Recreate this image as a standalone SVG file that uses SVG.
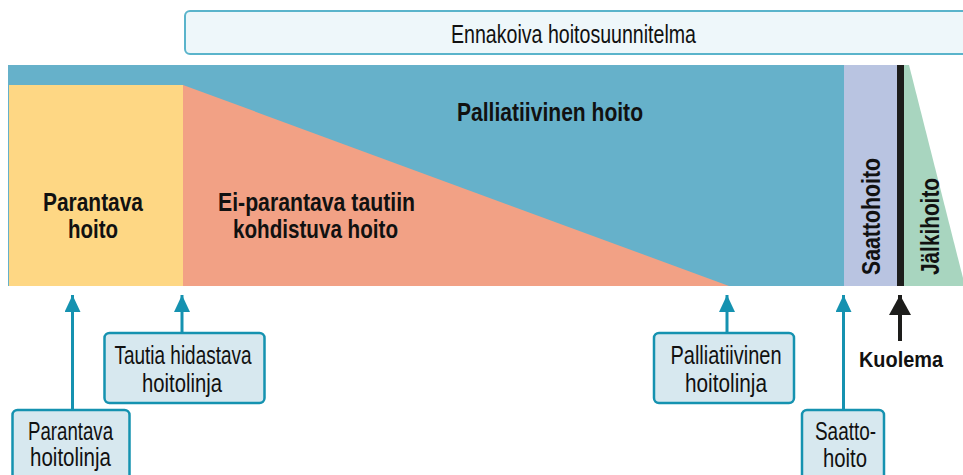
<svg xmlns="http://www.w3.org/2000/svg" width="963" height="475" viewBox="0 0 963 475">
<defs>
<style>
.t{font-family:"Liberation Sans",Arial,sans-serif;font-size:25px;fill:#111;text-anchor:middle}
.b{font-weight:bold}
.k{font-size:22px}
.box{fill:#d7e8ef;stroke:#1592b0;stroke-width:2.5}
.ln{stroke:#1592b0;stroke-width:3;fill:none}
</style>
<marker id="ah" markerUnits="userSpaceOnUse" markerWidth="18" markerHeight="16" refX="17" refY="8" orient="auto">
<path d="M0,0 L17,8 L0,16 Z" fill="#1592b0"/>
</marker>
<marker id="ahk" markerUnits="userSpaceOnUse" markerWidth="22" markerHeight="24" refX="20" refY="11" orient="auto">
<path d="M0,0 L20,11 L0,22 Z" fill="#1d1d1b"/>
</marker>
</defs>
<rect width="963" height="475" fill="#fff"/>

<g id="plan">
<rect x="185" y="11" width="800" height="43" rx="5" fill="#eef7fa" stroke="#5ab4cb" stroke-width="2"/>
<text class="t" x="573.5" y="43" textLength="245" lengthAdjust="spacingAndGlyphs">Ennakoiva hoitosuunnitelma</text>
</g>

<g id="palliative">
<rect x="8" y="65" width="836" height="221" fill="#66b1ca"/>
<text class="t b" x="550" y="121" textLength="186" lengthAdjust="spacingAndGlyphs">Palliatiivinen hoito</text>
</g>

<g id="curative">
<rect x="9" y="85" width="174" height="201" fill="#fed784"/>
<text class="t b" x="93" y="211" textLength="100" lengthAdjust="spacingAndGlyphs">Parantava</text>
<text class="t b" x="93" y="238" textLength="50" lengthAdjust="spacingAndGlyphs">hoito</text>
</g>

<g id="disease">
<polygon points="183,85 729,286 183,286" fill="#f2a185"/>
<text class="t b" x="316.5" y="211" textLength="197" lengthAdjust="spacingAndGlyphs">Ei-parantava tautiin</text>
<text class="t b" x="315.5" y="238" textLength="165" lengthAdjust="spacingAndGlyphs">kohdistuva hoito</text>
</g>

<g id="endoflife">
<rect x="844" y="65" width="53" height="221" fill="#b9c4e1"/>
<text class="t b" transform="translate(880,216.5) rotate(-90)" x="0" y="0" textLength="117" lengthAdjust="spacingAndGlyphs">Saattohoito</text>
</g>

<g id="death-bar">
<rect x="897" y="65" width="7" height="221" fill="#1d1d1b"/>
</g>

<g id="aftercare">
<polygon points="904,65 909,65 965,286 904,286" fill="#a8d5bf"/>
<text class="t b" transform="translate(939,226.5) rotate(-90)" x="0" y="0" textLength="97" lengthAdjust="spacingAndGlyphs">Jälkihoito</text>
</g>

<g id="connectors">
<line class="ln" x1="72.5" y1="410" x2="72.5" y2="295" marker-end="url(#ah)"/>
<line class="ln" x1="182" y1="333" x2="182" y2="295" marker-end="url(#ah)"/>
<line class="ln" x1="727" y1="333" x2="727" y2="295" marker-end="url(#ah)"/>
<line class="ln" x1="843.5" y1="410" x2="843.5" y2="295" marker-end="url(#ah)"/>
<line x1="900" y1="341" x2="900" y2="295" stroke="#1d1d1b" stroke-width="4" marker-end="url(#ahk)"/>
</g>

<g id="n-parantava">
<rect class="box" x="12.5" y="410" width="117" height="80" rx="5"/>
<text class="t" x="70.5" y="440" textLength="85" lengthAdjust="spacingAndGlyphs">Parantava</text>
<text class="t" x="70.5" y="466" textLength="81" lengthAdjust="spacingAndGlyphs">hoitolinja</text>
</g>

<g id="n-tautia">
<rect class="box" x="104.5" y="333" width="160" height="70" rx="5"/>
<text class="t" x="183" y="364" textLength="137" lengthAdjust="spacingAndGlyphs">Tautia hidastava</text>
<text class="t" x="182" y="392" textLength="80" lengthAdjust="spacingAndGlyphs">hoitolinja</text>
</g>

<g id="n-palliatiivinen">
<rect class="box" x="654" y="333" width="140" height="70" rx="5"/>
<text class="t" x="726" y="364" textLength="111" lengthAdjust="spacingAndGlyphs">Palliatiivinen</text>
<text class="t" x="726" y="392" textLength="82" lengthAdjust="spacingAndGlyphs">hoitolinja</text>
</g>

<g id="n-saatto">
<rect class="box" x="802" y="410" width="82" height="80" rx="5"/>
<text class="t" x="845.5" y="440" textLength="61" lengthAdjust="spacingAndGlyphs">Saatto-</text>
<text class="t" x="845" y="467" textLength="44" lengthAdjust="spacingAndGlyphs">hoito</text>
</g>

<g id="n-kuolema">
<text class="t b k" x="901" y="367" textLength="84" lengthAdjust="spacingAndGlyphs">Kuolema</text>
</g>
</svg>
